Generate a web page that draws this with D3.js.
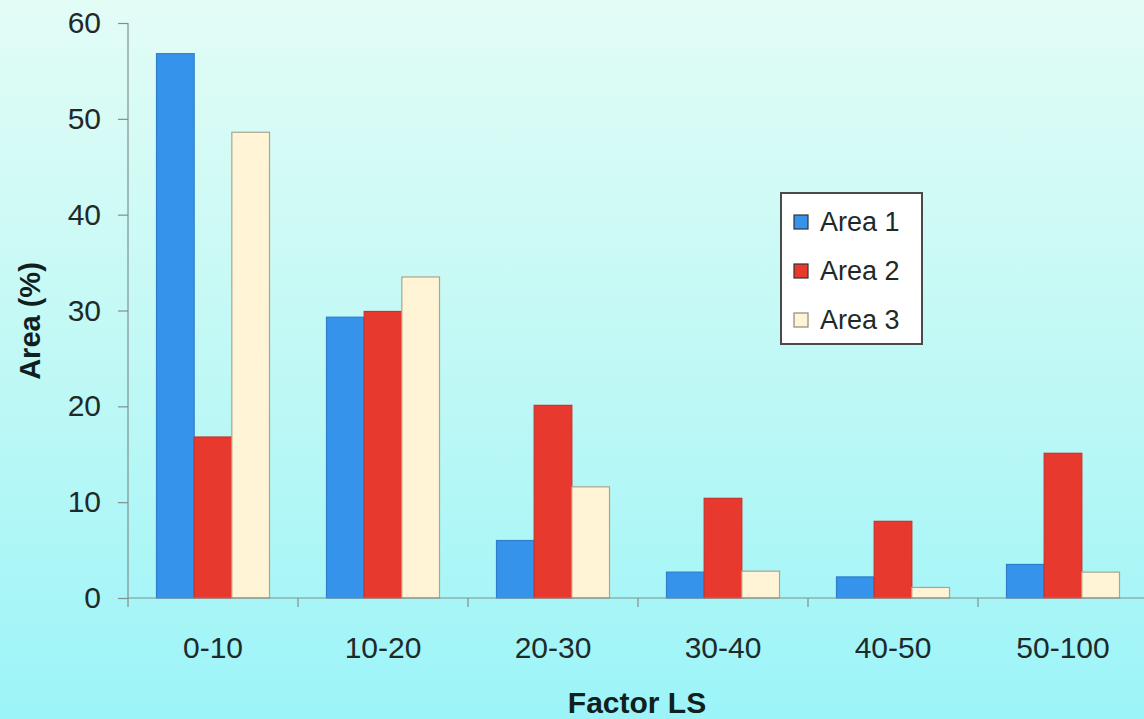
<!DOCTYPE html>
<html>
<head>
<meta charset="utf-8">
<script src="https://cdn.jsdelivr.net/npm/d3@7"></script>
<style>
  html, body { margin: 0; padding: 0; }
  body { width: 1144px; height: 719px; overflow: hidden; }
  svg { display: block; font-family: Arial, "Liberation Sans", sans-serif; }
</style>
</head>
<body>
<svg id="chart" width="1144" height="719"></svg>
<script>
// Factor LS classes and share of each area (%)
const categories = ["0-10", "10-20", "20-30", "30-40", "40-50", "50-100"];
const seriesNames = ["Area 1", "Area 2", "Area 3"];
const area1 = [56.8, 29.3, 6.0, 2.7, 2.2, 3.5];
const area2 = [16.8, 29.9, 20.1, 10.4, 8.0, 15.1];
const area3 = [48.6, 33.5, 11.6, 2.8, 1.1, 2.7];
const yTicks = [0, 10, 20, 30, 40, 50, 60];

const seriesValues = [area1, area2, area3];
const fills = ["#3593ec", "#e8392e", "#fff4d6"];
const strokes = ["#2d7fcc", "#c7332a", "#aaa58e"];

const svg = d3.select("#chart");
const W = 1144, H = 719;

// Background gradient
const defs = svg.append("defs");
const grad = defs.append("linearGradient")
  .attr("id", "bg").attr("x1", 0).attr("y1", 0).attr("x2", 0).attr("y2", 1);
grad.append("stop").attr("offset", "0%").attr("stop-color", "#e3fcf6");
grad.append("stop").attr("offset", "45%").attr("stop-color", "#c4f9f5");
grad.append("stop").attr("offset", "100%").attr("stop-color", "#9cf4f8");
svg.append("rect").attr("width", W).attr("height", H).attr("fill", "url(#bg)");

const plot = { left: 128, right: 1148, top: 23, bottom: 598 };

const x = d3.scaleBand().domain(categories).range([plot.left, plot.right]).padding(0);
const xInner = d3.scaleBand().domain(d3.range(seriesNames.length))
  .range([28.5, x.bandwidth() - 28.5]).padding(0);
const y = d3.scaleLinear().domain([0, 60]).range([plot.bottom, plot.top]);

const axisColor = "#7f8f8f";

// Y axis
const yAxis = svg.append("g")
  .attr("transform", `translate(${plot.left},0)`)
  .call(d3.axisLeft(y).tickValues(yTicks).tickSize(10).tickPadding(17).tickSizeOuter(0));
yAxis.select(".domain").remove();
yAxis.selectAll(".tick line").attr("stroke", axisColor).attr("stroke-width", 1.2);
yAxis.selectAll(".tick text")
  .attr("font-size", 30).attr("fill", "#1e2a2a").attr("font-family", "Arial, 'Liberation Sans', sans-serif");
svg.append("line")
  .attr("x1", plot.left).attr("x2", plot.left)
  .attr("y1", y(60)).attr("y2", plot.bottom + 9)
  .attr("stroke", axisColor).attr("stroke-width", 1.2);

// Bars
const groups = svg.append("g").selectAll("g")
  .data(categories)
  .join("g")
  .attr("transform", d => `translate(${x(d)},0)`);

groups.selectAll("rect")
  .data((d, i) => seriesValues.map((vals, s) => ({ s, v: vals[i] })))
  .join("rect")
  .attr("x", d => xInner(d.s))
  .attr("width", xInner.bandwidth())
  .attr("y", d => y(d.v))
  .attr("height", d => y(0) - y(d.v))
  .attr("fill", d => fills[d.s])
  .attr("stroke", d => strokes[d.s])
  .attr("stroke-width", 1.2);

// X axis baseline with ticks at class boundaries
svg.append("line")
  .attr("x1", plot.left).attr("x2", W)
  .attr("y1", y(0)).attr("y2", y(0))
  .attr("stroke", axisColor).attr("stroke-width", 1.2);
const boundaries = categories.map(c => x(c)).concat([x(categories[categories.length - 1]) + x.bandwidth()]);
svg.append("g").selectAll("line")
  .data(boundaries.slice(1))
  .join("line")
  .attr("x1", d => d).attr("x2", d => d)
  .attr("y1", y(0)).attr("y2", y(0) + 9)
  .attr("stroke", axisColor).attr("stroke-width", 1.2);

svg.append("g").selectAll("text")
  .data(categories)
  .join("text")
  .attr("x", d => x(d) + x.bandwidth() / 2)
  .attr("y", 658)
  .attr("text-anchor", "middle")
  .attr("font-size", 30)
  .attr("fill", "#1e2a2a")
  .text(d => d);

// Axis titles
svg.append("text")
  .attr("x", 637).attr("y", 713)
  .attr("text-anchor", "middle")
  .attr("font-size", 30).attr("font-weight", "bold").attr("fill", "#10201f")
  .text("Factor LS");

svg.append("text")
  .attr("transform", "translate(40,321) rotate(-90)")
  .attr("text-anchor", "middle")
  .attr("font-size", 29).attr("font-weight", "bold").attr("fill", "#10201f")
  .text("Area (%)");

// Legend
const legend = svg.append("g").attr("transform", "translate(781,193)");
legend.append("rect")
  .attr("width", 141).attr("height", 151)
  .attr("fill", "#ffffff").attr("stroke", "#4a4a4a").attr("stroke-width", 2);
const items = legend.selectAll("g.item")
  .data(seriesNames)
  .join("g")
  .attr("class", "item")
  .attr("transform", (d, i) => `translate(0,${29 + i * 49})`);
items.append("rect")
  .attr("x", 13).attr("y", -7).attr("width", 14).attr("height", 14)
  .attr("fill", (d, i) => fills[i])
  .attr("stroke", (d, i) => i === 2 ? "#8c8a78" : "#333333")
  .attr("stroke-width", 1.2);
items.append("text")
  .attr("x", 39).attr("y", 9)
  .attr("font-size", 27).attr("fill", "#1e2a2a")
  .text(d => d);
</script>
</body>
</html>
